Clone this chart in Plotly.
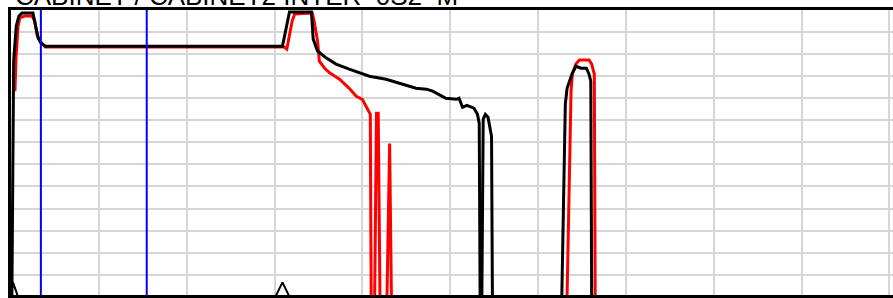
import plotly.graph_objects as go

# ---- data (x in time units, y in level units) ----
black_x = [0.1, 0.3, 0.6, 0.9, 1.25, 2.5, 2.8, 3.1, 3.4, 3.9, 30.3, 30.9, 31.7, 34.2, 34.4,
           34.9, 35.9, 37.0, 38.5, 39.7, 40.8, 42.7, 44.2, 46.1, 47.3, 48.0, 49.5, 50.7,
           51.0, 51.4, 51.9, 52.7, 53.1, 53.3, 53.4, 53.6, 53.75, 54.0, 54.3, 54.7, 54.8,
           62.7, 63.1, 63.3, 63.9, 64.3, 64.9, 65.5, 65.8, 66.0, 66.1, 100.4]
black_y = [0, 106.8, 122.7, 127.3, 128.6, 128.6, 122.7, 117.3, 115.0, 113.6, 113.6, 113.6,
           129.1, 129.1, 116.8, 111.4, 108.2, 105.5, 103.2, 101.4, 100.0, 98.6, 96.8, 94.5,
           94.1, 93.2, 90.0, 89.5, 90.0, 85.9, 86.8, 85.5, 82.7, 78.6, 0, 0, 80.5, 82.7,
           81.4, 72.7, 0, 0, 87.3, 94.5, 101.4, 104.5, 103.6, 103.6, 100.9, 97.7, 0, 0]

red_x = [0.45, 0.57, 0.8, 1.0, 1.6, 2.4, 2.7, 3.0, 3.3, 3.9, 30.3, 31.1, 31.4, 31.7, 32.0,
         32.3, 34.3, 34.5, 34.9, 35.1, 35.7, 36.3, 37.4, 38.5, 39.3, 40.0, 40.5, 40.8, 40.9,
         41.0, 41.4, 41.6, 41.8, 42.0, 42.8, 43.1, 43.3, 63.3, 63.75, 63.9, 64.3, 64.7,
         65.8, 66.1, 66.4, 66.5, 100.4]
red_y = [93.2, 108.2, 122.7, 126.4, 127.3, 127.3, 125.0, 118.2, 115.9, 113.2, 113.2, 113.2,
         112.3, 119.5, 125.0, 128.2, 128.6, 125.0, 115.9, 106.8, 103.6, 101.4, 98.6, 94.5,
         90.9, 89.5, 85.5, 83.2, 82.7, 0, 0, 83.2, 83.2, 0, 0, 69.5, 0, 0, 93.2, 100.9,
         105.5, 107.3, 107.3, 105.5, 100.9, 0, 0]

event_x = [0.0, 0.23, 0.8, 30.1, 30.9, 31.7]
event_y = [0, 6.5, 0, 0, 6.5, 0]

marker_lines_x = [3.4, 15.45]

title_text = "CABINET / CABINET2 INTER_0S2_M"

fig = go.Figure()
fig.add_trace(go.Scatter(x=red_x, y=red_y, mode="lines",
                         line=dict(color="#ff0000", width=3), showlegend=False))
fig.add_trace(go.Scatter(x=black_x, y=black_y, mode="lines",
                         line=dict(color="#000000", width=3), showlegend=False))
fig.add_trace(go.Scatter(x=event_x, y=event_y, mode="lines",
                         line=dict(color="#000000", width=2), showlegend=False,
                         cliponaxis=False))

for xv in marker_lines_x:
    fig.add_vline(x=xv, line=dict(color="#0000ff", width=2), layer="above")

fig.add_annotation(text=title_text, xref="paper", yref="paper", x=0.0, y=1.0,
                   xanchor="left", yanchor="bottom", xshift=2, yshift=-3,
                   showarrow=False,
                   font=dict(family="Liberation Sans, Arial", size=26, color="#000000"))

fig.update_layout(
    width=893, height=298,
    margin=dict(l=11, r=0, t=10, b=3),
    paper_bgcolor="#ffffff", plot_bgcolor="#ffffff",
    xaxis=dict(range=[0, 100.4], dtick=10, tick0=0, showticklabels=False,
               showgrid=True, gridcolor="#d6d6d6", gridwidth=2, zeroline=False,
               showline=True, linecolor="#000000", linewidth=3, mirror=True, ticks=""),
    yaxis=dict(range=[0.8, 130], tick0=0, dtick=10, showticklabels=False,
               showgrid=True, gridcolor="#d6d6d6", gridwidth=2, zeroline=False,
               showline=True, linecolor="#000000", linewidth=3, mirror=False, ticks=""),
)

fig.write_html("out.html", config={"displayModeBar": False},
               post_script="document.body.style.margin='0';document.body.style.overflow='hidden';")
